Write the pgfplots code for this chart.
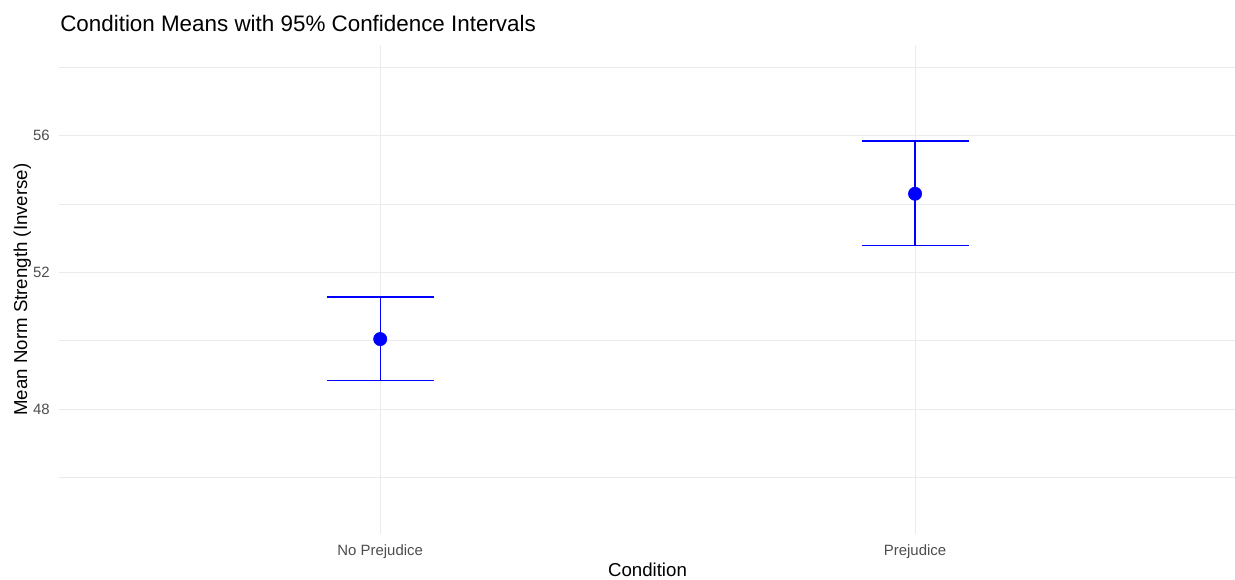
\documentclass[border=0pt]{standalone}
\usepackage{pgfplots}
\pgfplotsset{compat=1.18}
\usepackage{fontspec}
\setmainfont{Liberation Sans}
\definecolor{gridc}{HTML}{EBEBEB}
\definecolor{tickc}{HTML}{4D4D4D}
\pgfplotsset{cibar/.style={draw=blue, color=blue, line width=0.95pt, mark=none, forget plot}}
\begin{document}
\begin{tikzpicture}
\useasboundingbox (0pt,0pt) rectangle (926.25pt,434.25pt);
\begin{axis}[
  at={(44.475pt,33.75pt)}, anchor=south west,
  scale only axis, width=882.5pt, height=366.75pt,
  xmin=0.4, xmax=2.6, ymin=44.35, ymax=58.65,
  axis line style={draw=none},
  major tick length=0pt, minor tick length=0pt,
  xtick={1,2}, xticklabels={No Prejudice, Prejudice},
  ytick={48,52,56}, minor ytick={46,50,54,58},
  xmajorgrids, ymajorgrids, yminorgrids,
  major grid style={gridc, line width=0.8pt},
  minor grid style={gridc, line width=0.45pt},
  /pgf/number format/assume math mode=true,
  ticklabel style={font=\fontsize{11.2}{13}\selectfont, text=tickc, inner sep=0pt},
  xticklabel style={anchor=north, yshift=-7.5pt},
  yticklabel style={anchor=east, xshift=-7pt},
  clip=false,
]
% No Prejudice: 95% CI 48.83 -- 51.28
\addplot[cibar] coordinates {(1,48.83) (1,51.28)};
\addplot[cibar] coordinates {(0.9,48.83) (1.1,48.83)};
\addplot[cibar] coordinates {(0.9,51.28) (1.1,51.28)};
% Prejudice: 95% CI 52.79 -- 55.84
\addplot[cibar] coordinates {(2,52.79) (2,55.84)};
\addplot[cibar] coordinates {(1.9,52.79) (2.1,52.79)};
\addplot[cibar] coordinates {(1.9,55.84) (2.1,55.84)};
% means
\addplot[only marks, mark=*, mark size=5pt, blue, mark options={fill=blue, draw=blue}] coordinates {
  (1,50.05) (2,54.30)
};
\end{axis}
\node[anchor=base west, inner sep=0pt, font=\fontsize{16.8}{19}\selectfont] at (45pt,410.5pt) {Condition Means with 95\% Confidence Intervals};
\node[anchor=base, inner sep=0pt, font=\fontsize{14}{16}\selectfont] at (485.6pt,1.7pt) {Condition};
\node[anchor=base, rotate=90, inner sep=0pt, font=\fontsize{14}{16}\selectfont] at (20.25pt,217.1pt) {Mean Norm Strength (Inverse)};
\end{tikzpicture}
\end{document}
